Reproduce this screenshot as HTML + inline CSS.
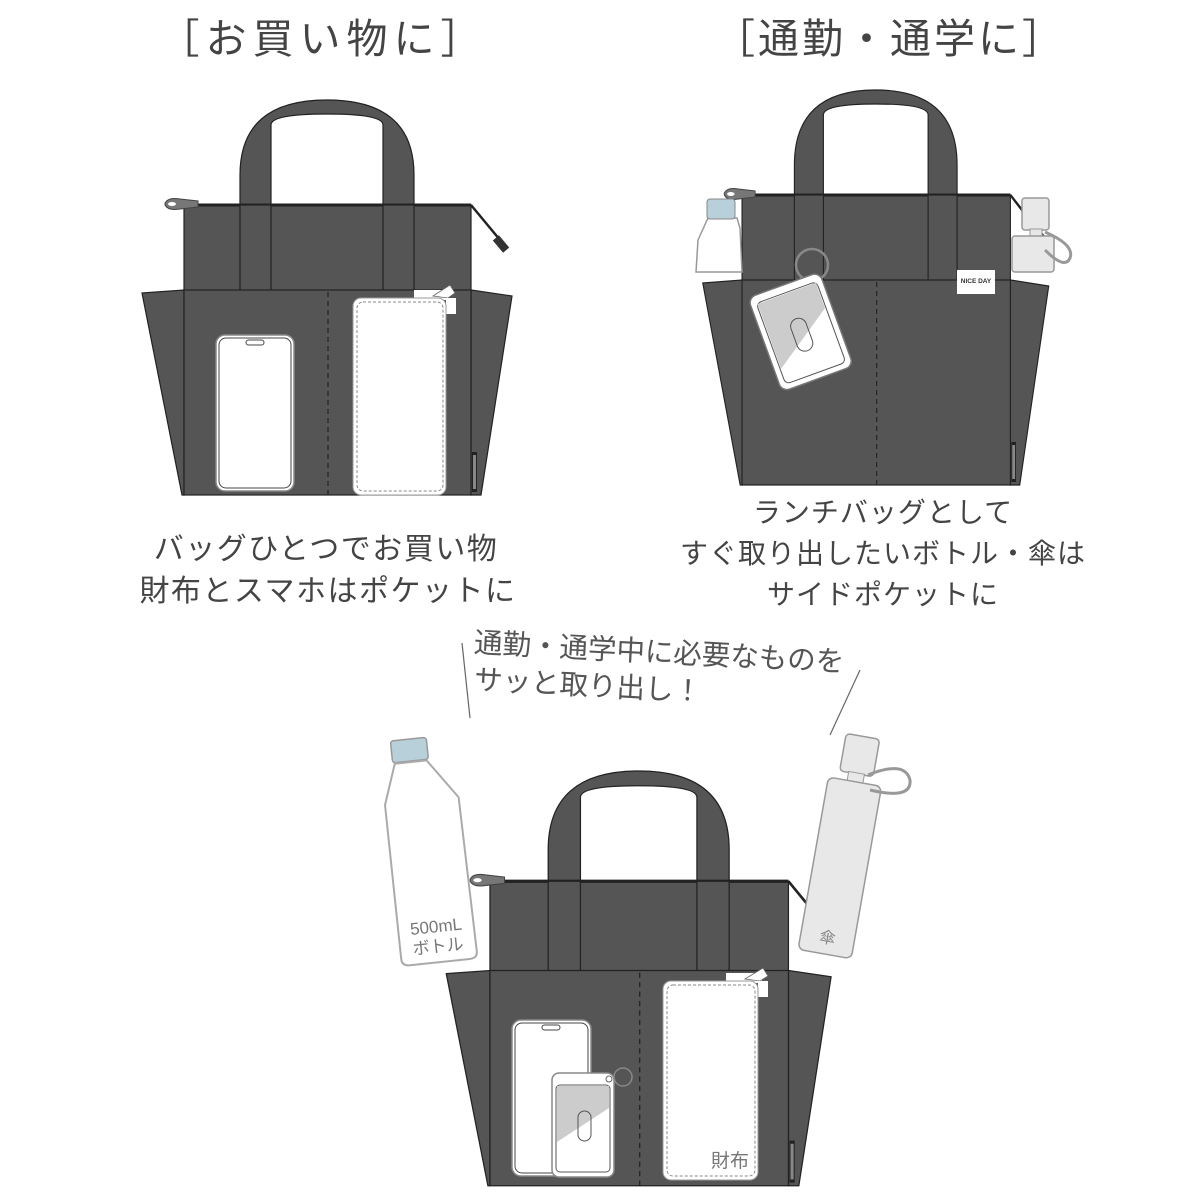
<!DOCTYPE html>
<html><head><meta charset="utf-8"><style>
html,body{margin:0;padding:0;background:#fff;width:1200px;height:1200px;overflow:hidden}
svg{display:block}
text{font-family:"Liberation Sans","Noto Sans CJK JP",sans-serif;fill:#444}
</style></head><body>
<svg width="1200" height="1200" viewBox="0 0 1200 1200" xmlns="http://www.w3.org/2000/svg">
<defs>
<g id="bag">
  <path d="M240 290 L240 175 Q240 100 327 100 Q414 100 414 175 L414 290 L383 290 L383 125 Q383 114 327 114 Q271 114 271 125 L271 290 Z" fill="#555" stroke="#222" stroke-width="1.2"/>
  <rect x="184" y="205" width="287" height="86" fill="#555" stroke="#222" stroke-width="1.2"/>
  <line x1="184" y1="205" x2="471" y2="205" stroke="#222" stroke-width="3"/>
  <rect x="240" y="205" width="31" height="86" fill="#555" stroke="#222" stroke-width="1.2"/>
  <rect x="383" y="205" width="31" height="86" fill="#555" stroke="#222" stroke-width="1.2"/>
  <line x1="471" y1="205" x2="500" y2="240" stroke="#222" stroke-width="2.5"/>
  <rect x="497" y="236" width="8" height="16" fill="#333" transform="rotate(-40 501 244)"/>
  <path d="M165 203 Q168 197 180 199 L198 201 L198 207 L180 209 Q168 211 165 205Z" fill="#777" stroke="#444"/>
  <ellipse cx="172" cy="204" rx="4" ry="2" fill="#fff"/>
  <path d="M142 293 L184 290 L184 495 L182 495 Z" fill="#555" stroke="#222" stroke-width="1.2"/>
  <path d="M471 290 L512 296 L481 495 L471 495 Z" fill="#555" stroke="#222" stroke-width="1.2"/>
  <rect x="184" y="290" width="287" height="205" fill="#555" stroke="#222" stroke-width="1.2"/>
  <line x1="328" y1="292" x2="328" y2="495" stroke="#222" stroke-width="1.2" stroke-dasharray="5 4"/>
  <rect x="472" y="452" width="5" height="40" fill="#222"/>
  <rect x="473" y="455" width="3" height="34" fill="#888"/>
</g>
</defs>

<text x="323" y="53" font-size="41" text-anchor="middle" letter-spacing="6">［お買い物に］</text>
<text x="890" y="53" font-size="41" text-anchor="middle" letter-spacing="3">［通勤・通学に］</text>

<use href="#bag"/>
<rect x="216" y="335" width="78" height="156" rx="9" fill="#fff" stroke="#888" stroke-width="1.5"/>
<rect x="219" y="338" width="72" height="150" rx="7" fill="#fff" stroke="#444" stroke-width="1"/>
<rect x="246" y="340" width="18" height="5" rx="2.5" fill="#fff" stroke="#444"/>
<rect x="414" y="290" width="34" height="10" fill="#fff"/>
<path d="M433 296 L450 285 L455 293 L448 298Z" fill="#fff" stroke="#666" stroke-width="0.8"/>
<rect x="446" y="298" width="10" height="16" fill="#fff"/>
<rect x="353" y="298" width="93" height="197" rx="8" fill="#fff" stroke="#999"/>
<rect x="357" y="302" width="86" height="189" rx="6" fill="none" stroke="#888" stroke-dasharray="3 2"/>

<g transform="translate(570 -10) scale(0.935 1)">
<use href="#bag"/>
</g>
<path d="M708 218 L737 218 L740 228 L742 272 L696 272 L698 240 Z" fill="#fff" stroke="#999" stroke-width="1.5"/>
<rect x="707" y="199" width="28" height="20" rx="3" fill="#b8d0da" stroke="#888"/>
<rect x="1022" y="198" width="27" height="32" rx="3" fill="#e8e8e8" stroke="#999" stroke-width="1.5"/>
<rect x="1030" y="229" width="12" height="8" fill="#e8e8e8" stroke="#999"/>
<rect x="1012" y="236" width="42" height="36" rx="3" fill="#e8e8e8" stroke="#999" stroke-width="1.5"/>
<path d="M1045 232 Q1075 245 1070 258 Q1065 270 1045 250" fill="none" stroke="#999" stroke-width="3"/>
<rect x="957" y="270" width="38" height="24" fill="#fff"/>
<text x="976" y="283" font-size="6.5" text-anchor="middle" font-weight="bold" style="fill:#333">NICE DAY</text>
<circle cx="812" cy="265" r="16" fill="none" stroke="#888" stroke-width="2.5"/>
<g transform="rotate(-20 800 330)">
<rect x="762" y="282" width="76" height="100" rx="8" fill="#fff" stroke="#777" stroke-width="1.5"/>
<rect x="768" y="290" width="64" height="86" rx="5" fill="#fff" stroke="#555"/>
<path d="M769 291 L831 291 L831 318 L769 360 Z" fill="#ccc"/>
<rect x="792" y="318" width="16" height="34" rx="8" fill="none" stroke="#555"/>
</g>

<text x="326" y="559" font-size="30" text-anchor="middle" letter-spacing="1.5">バッグひとつでお買い物</text>
<text x="328" y="601" font-size="30" text-anchor="middle" letter-spacing="1.5">財布とスマホはポケットに</text>
<text x="883" y="522" font-size="28" text-anchor="middle" letter-spacing="1">ランチバッグとして</text>
<text x="883" y="563" font-size="28" text-anchor="middle" letter-spacing="1">すぐ取り出したいボトル・傘は</text>
<text x="883" y="604" font-size="28" text-anchor="middle" letter-spacing="1">サイドポケットに</text>

<g transform="rotate(3 660 670)">
<text x="473" y="662" font-size="28.5" style="fill:#555">通勤・通学中に必要なものを</text>
<text x="475" y="699" font-size="28.5" style="fill:#555">サッと取り出し！</text>
</g>
<line x1="462" y1="643" x2="470" y2="718" stroke="#666" stroke-width="1.2"/>
<line x1="860" y1="670" x2="830" y2="735" stroke="#666" stroke-width="1.2"/>

<g transform="translate(298.6 666) scale(1.04 1.05)">
<use href="#bag"/>
</g>
<g transform="rotate(-6 435 850)">
<rect x="402" y="737" width="36" height="22" rx="3" fill="#b8d0da" stroke="#999" stroke-width="1.5"/>
<path d="M404 760 L436 760 L464 800 L466 955 Q466 962 458 962 L398 962 Q390 962 390 955 L390 800 Z" fill="#fff" stroke="#aaa" stroke-width="2"/>
<text x="428" y="932" font-size="17" text-anchor="middle" style="fill:#777">500mL</text>
<text x="428" y="952" font-size="17" text-anchor="middle" style="fill:#777">ボトル</text>
</g>
<g transform="rotate(10 845 850)">
<rect x="826" y="735" width="34" height="38" rx="4" fill="#e8e8e8" stroke="#999" stroke-width="1.5"/>
<rect x="835" y="772" width="16" height="10" fill="#e8e8e8" stroke="#999"/>
<rect x="816" y="781" width="54" height="175" rx="6" fill="#e8e8e8" stroke="#999" stroke-width="1.5"/>
<text x="843" y="945" font-size="16" text-anchor="middle" style="fill:#888">傘</text>
</g>
<path d="M868 775 Q905 760 910 780 Q912 800 870 790" fill="none" stroke="#999" stroke-width="3"/>
<rect x="512" y="1020" width="79" height="156" rx="9" fill="#fff" stroke="#888" stroke-width="1.5"/>
<rect x="515" y="1023" width="73" height="150" rx="7" fill="#fff" stroke="#444"/>
<rect x="542" y="1025" width="18" height="5" rx="2.5" fill="#fff" stroke="#444"/>
<circle cx="623" cy="1077" r="9" fill="none" stroke="#888" stroke-width="1.5"/>
<rect x="552" y="1073" width="62" height="104" rx="7" fill="#fff" stroke="#888" stroke-width="1.5"/>
<rect x="556" y="1085" width="54" height="87" rx="4" fill="#fff" stroke="#555"/>
<path d="M557 1086 L609 1086 L609 1108 L557 1142 Z" fill="#ccc"/>
<rect x="578" y="1111" width="13" height="30" rx="6.5" fill="none" stroke="#555"/>
<circle cx="609" cy="1079" r="3" fill="#fff" stroke="#666"/>
<rect x="726" y="973" width="36" height="10" fill="#fff"/>
<path d="M745 979 L763 968 L768 976 L760 981Z" fill="#fff" stroke="#666" stroke-width="0.8"/>
<rect x="758" y="981" width="10" height="16" fill="#fff"/>
<rect x="663" y="981" width="95" height="199" rx="8" fill="#fff" stroke="#999"/>
<rect x="667" y="985" width="88" height="191" rx="6" fill="none" stroke="#888" stroke-dasharray="3 2"/>
<text x="730" y="1167" font-size="19" text-anchor="middle" style="fill:#777">財布</text>
</svg>
</body></html>
